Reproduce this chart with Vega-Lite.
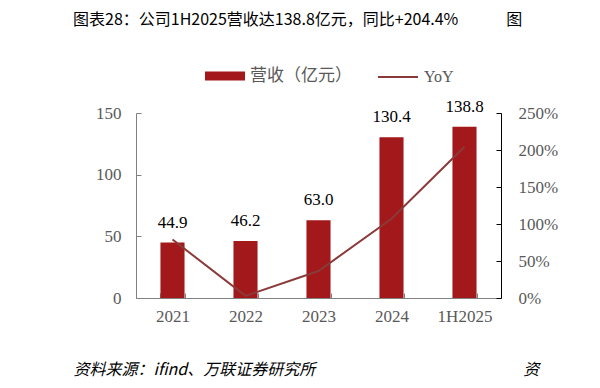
{
  "$schema": "https://vega.github.io/schema/vega-lite/v6.json",
  "width": 365,
  "height": 185,
  "autosize": {"type": "none"},
  "padding": {"left": 136, "top": 113, "right": 99, "bottom": 90},
  "background": "white",
  "title": {
    "text": "图表28：公司1H2025营收达138.8亿元，同比+204.4%　　　图",
    "anchor": "start",
    "frame": "group",
    "dx": -63,
    "offset": 28,
    "font": "Noto Sans CJK SC",
    "fontSize": 16,
    "fontWeight": "normal",
    "color": "#000000"
  },
  "config": {
    "view": {"stroke": null},
    "axis": {"grid": false}
  },
  "data": {
    "values": [
      {"period": "2021", "rev": 44.9, "yoy": 0.79},
      {"period": "2022", "rev": 46.2, "yoy": 0.029},
      {"period": "2023", "rev": 63.0, "yoy": 0.364},
      {"period": "2024", "rev": 130.4, "yoy": 1.07},
      {"period": "1H2025", "rev": 138.8, "yoy": 2.044}
    ]
  },
  "layer": [
    {
      "layer": [
        {
          "mark": {"type": "bar"},
          "encoding": {
            "x": {
              "field": "period", "type": "nominal", "sort": null,
              "scale": {"paddingInner": 0.67, "paddingOuter": 0.335},
              "axis": {
                "labelAngle": 0,
                "labelFont": "Liberation Serif",
                "labelFontSize": 17,
                "labelColor": "#595959",
                "labelPadding": 15,
                "domainColor": "#808080",
                "tickColor": "#808080",
                "tickSize": -5,
                "tickBand": "extent",
                "title": "资料来源：ifind、万联证券研究所　　　　　　　　　　　　　资",
                "titleFont": "Noto Sans CJK SC",
                "titleFontStyle": "italic",
                "titleFontWeight": "normal",
                "titleFontSize": 16,
                "titleColor": "#000000",
                "titleAnchor": "start",
                "titleAlign": "left",
                "titleBaseline": "middle",
                "titleX": -63,
                "titleY": 71
              }
            },
            "y": {
              "field": "rev", "type": "quantitative",
              "scale": {"domain": [0, 150], "nice": false},
              "axis": {
                "values": [0, 50, 100, 150],
                "title": null,
                "labelFont": "Liberation Serif",
                "labelFontSize": 17,
                "labelColor": "#595959",
                "labelPadding": 20,
                "domainColor": "#808080",
                "tickColor": "#808080",
                "tickSize": -5
              }
            },
            "fill": {
              "datum": "营收（亿元）",
              "type": "nominal",
              "scale": {"range": ["#A3191B"]},
              "legend": {
                "orient": "none",
                "legendX": 69,
                "legendY": -57,
                "title": null,
                "padding": 0,
                "symbolType": "M-1,-0.22H1V0.22H-1Z",
                "symbolSize": 1600,
                "symbolStrokeWidth": 0,
                "labelFont": "Noto Sans CJK SC",
                "labelFontSize": 17,
                "labelColor": "#595959",
                "labelOffset": 5
              }
            }
          }
        },
        {
          "mark": {
            "type": "text",
            "font": "Liberation Serif",
            "fontSize": 17,
            "color": "#000000",
            "baseline": "middle",
            "dy": -20
          },
          "encoding": {
            "x": {"field": "period", "type": "nominal", "sort": null},
            "y": {"field": "rev", "type": "quantitative"},
            "text": {"field": "rev", "type": "quantitative", "format": ".1f"}
          }
        }
      ]
    },
    {
      "mark": {"type": "line", "strokeWidth": 2},
      "encoding": {
        "x": {"field": "period", "type": "nominal", "sort": null},
        "y": {
          "field": "yoy", "type": "quantitative",
          "scale": {"domain": [0, 2.5], "nice": false},
          "axis": {
            "orient": "right",
            "values": [0, 0.5, 1, 1.5, 2, 2.5],
            "format": ".0%",
            "title": null,
            "labelFont": "Liberation Serif",
            "labelFontSize": 17,
            "labelColor": "#595959",
            "labelPadding": 22,
            "domainColor": "#000000",
            "tickColor": "#000000",
            "tickSize": -5
          }
        },
        "stroke": {
          "datum": "YoY",
          "type": "nominal",
          "scale": {"range": ["#8B3A3A"]},
          "legend": {
            "orient": "none",
            "legendX": 241,
            "legendY": -57,
            "title": null,
            "padding": 0,
            "symbolType": "stroke",
            "symbolSize": 1600,
            "symbolStrokeWidth": 2,
            "labelFont": "Liberation Serif",
            "labelFontSize": 16,
            "labelColor": "#595959",
            "labelOffset": 5
          }
        }
      }
    }
  ],
  "resolve": {"scale": {"y": "independent"}}
}
